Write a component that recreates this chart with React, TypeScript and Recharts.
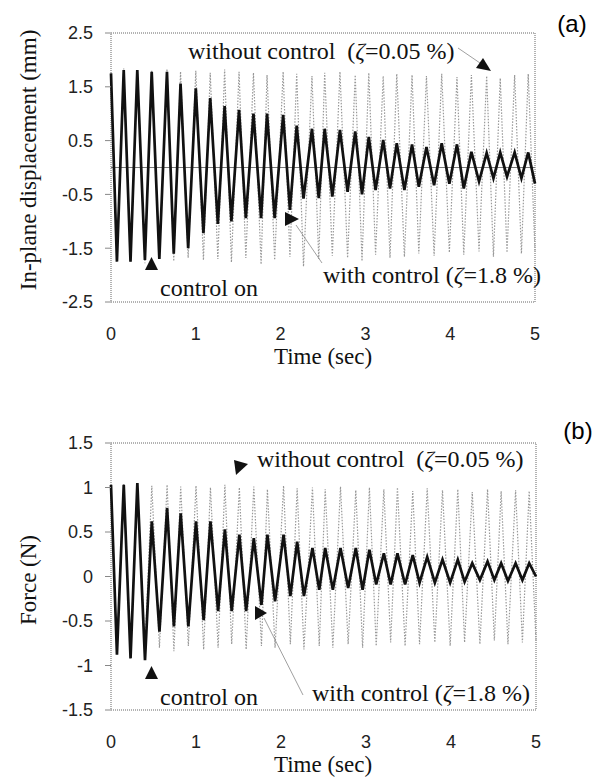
import { LineChart, Line, XAxis, YAxis, ReferenceLine, ReferenceArea } from 'recharts';

// sample instants (sec) at each peak / trough of the record
const time = [
  0, 0.07, 0.15, 0.23, 0.31, 0.40, 0.48, 0.57, 0.66, 0.74,
  0.82, 0.91, 1.00, 1.09, 1.17, 1.26, 1.34, 1.42, 1.51, 1.59,
  1.68, 1.77, 1.84, 1.93, 2.03, 2.11, 2.19, 2.27, 2.37, 2.45,
  2.52, 2.61, 2.70, 2.79, 2.88, 2.96, 3.04, 3.12, 3.21, 3.29,
  3.37, 3.46, 3.55, 3.63, 3.72, 3.81, 3.90, 3.99, 4.08, 4.16,
  4.25, 4.34, 4.43, 4.51, 4.59, 4.67, 4.76, 4.84, 4.92, 5.00,
];

// (a) in-plane displacement, mm
const dispWithout = [
  1.75, -1.72, 1.84, -1.75, 1.82, -1.78, 1.80, -1.70, 1.83, -1.74,
  1.78, -1.68, 1.80, -1.72, 1.76, -1.70, 1.82, -1.76, 1.78, -1.68,
  1.76, -1.80, 1.72, -1.72, 1.78, -1.66, 1.74, -1.84, 1.70, -1.70,
  1.76, -1.64, 1.78, -1.68, 1.72, -1.74, 1.76, -1.62, 1.70, -1.68,
  1.74, -1.66, 1.72, -1.60, 1.70, -1.64, 1.74, -1.58, 1.68, -1.62,
  1.72, -1.56, 1.70, -1.66, 1.66, -1.58, 1.72, -1.60, 1.74, -1.56,
];
const dispWith = [
  1.75, -1.75, 1.81, -1.75, 1.81, -1.72, 1.78, -1.70, 1.78, -1.60,
  1.56, -1.50, 1.47, -1.22, 1.29, -1.05, 1.14, -1.00, 1.07, -0.94,
  1.00, -0.94, 1.00, -0.94, 0.98, -0.79, 0.78, -0.58, 0.72, -0.57,
  0.72, -0.54, 0.70, -0.45, 0.67, -0.50, 0.57, -0.42, 0.51, -0.39,
  0.45, -0.42, 0.43, -0.36, 0.38, -0.33, 0.45, -0.30, 0.43, -0.39,
  0.29, -0.26, 0.27, -0.20, 0.28, -0.17, 0.28, -0.20, 0.28, -0.30,
];

// (b) force, N
const forceWithout = [
  1.03, -0.86, 1.04, -0.84, 1.03, -0.82, 1.02, -0.80, 1.03, -0.84,
  1.01, -0.78, 1.02, -0.82, 1.00, -0.80, 1.03, -0.76, 1.00, -0.82,
  1.01, -0.78, 0.98, -0.80, 1.02, -0.76, 0.99, -0.82, 1.00, -0.78,
  0.98, -0.80, 1.01, -0.76, 0.97, -0.80, 1.00, -0.78, 0.98, -0.74,
  1.00, -0.78, 0.96, -0.76, 0.99, -0.74, 0.97, -0.78, 0.98, -0.74,
  0.95, -0.76, 0.98, -0.72, 0.96, -0.76, 0.97, -0.74, 0.96, -0.72,
];
const forceWith = [
  1.03, -0.88, 1.03, -0.92, 1.05, -0.94, 0.62, -0.62, 0.77, -0.56,
  0.71, -0.56, 0.62, -0.49, 0.62, -0.39, 0.53, -0.39, 0.47, -0.39,
  0.43, -0.32, 0.47, -0.28, 0.47, -0.22, 0.39, -0.22, 0.32, -0.15,
  0.32, -0.15, 0.32, -0.13, 0.32, -0.15, 0.30, -0.09, 0.26, -0.09,
  0.26, -0.09, 0.24, -0.07, 0.22, -0.07, 0.19, -0.07, 0.19, -0.06,
  0.15, -0.04, 0.17, -0.04, 0.15, -0.05, 0.15, -0.04, 0.15, 0.00,
];

const timeTicks = [0, 1, 2, 3, 4, 5];
const dispTicks = [-2.5, -1.5, -0.5, 0.5, 1.5, 2.5];
const forceTicks = [-1.5, -1, -0.5, 0, 0.5, 1, 1.5];

const serif = '"Liberation Serif", "Times New Roman", serif';
const sans = '"Liberation Sans", Arial, sans-serif';
const tickStyle = { fontFamily: sans, fontSize: 18, fill: '#222' };

const topRows = time.map((t, i) => ({ t, off: dispWithout[i], on: dispWith[i] }));
const bottomRows = time.map((t, i) => ({ t, off: forceWithout[i], on: forceWith[i] }));

function Panel({ rows, ticks, lim, margin, height, zeroLine }: any) {
  return (
    <LineChart width={601} height={height} data={rows} margin={margin}>
      <ReferenceArea x1={0} x2={5} y1={-lim} y2={lim} fill="none" stroke="#666" strokeDasharray="1 1" ifOverflow="visible" />
      {zeroLine && <ReferenceLine y={0} stroke="#777" strokeWidth={1} />}
      <XAxis dataKey="t" type="number" domain={[0, 5]} ticks={timeTicks} interval={0}
        axisLine={false} tickLine={false} height={30} tickMargin={19} tick={tickStyle} />
      <YAxis type="number" domain={[-lim, lim]} ticks={ticks} interval={0} width={111}
        axisLine={false} tickSize={6} tickMargin={12} tickLine={{ stroke: '#888' }} tick={tickStyle} />
      <Line dataKey="off" type="linear" stroke="#999" strokeWidth={1.2} strokeDasharray="1.5 1.5"
        dot={false} isAnimationActive={false} />
      <Line dataKey="on" type="linear" stroke="#111" strokeWidth={2.7} dot={false} isAnimationActive={false} />
    </LineChart>
  );
}

function Zeta({ v }: { v: string }) {
  return (
    <>
      (<tspan fontStyle="italic">ζ</tspan>={v} %)
    </>
  );
}

export default function App() {
  const note = { fontFamily: serif, fontSize: 24, fill: '#111', style: { whiteSpace: 'pre' as const } };
  const title = { fontFamily: serif, fontSize: 23, fill: '#111', textAnchor: 'middle' as const };
  return (
    <div style={{ position: 'absolute', left: 0, top: 0, width: 601, height: 779, background: '#fff' }}>
      <div style={{ position: 'absolute', left: 0, top: 0 }}>
        <Panel rows={topRows} ticks={dispTicks} lim={2.5} height={390} zeroLine
          margin={{ top: 33, right: 66, bottom: 58, left: 0 }} />
      </div>
      <div style={{ position: 'absolute', left: 0, top: 390 }}>
        <Panel rows={bottomRows} ticks={forceTicks} lim={1.5} height={389} zeroLine={false}
          margin={{ top: 53, right: 65, bottom: 39, left: 0 }} />
      </div>
      <svg width={601} height={779} style={{ position: 'absolute', left: 0, top: 0, pointerEvents: 'none' }}>
        {/* panel (a) */}
        <text x={572} y={23} fontFamily={sans} fontSize={24} textAnchor="middle" dominantBaseline="central">(a)</text>
        <text {...title} transform="translate(28,160) rotate(-90)" dominantBaseline="central">In-plane displacement (mm)</text>
        <text {...title} x={323} y={364}>Time (sec)</text>
        <text {...note} x={188} y={59}>without control  <Zeta v="0.05" /></text>
        <line x1={458} y1={48} x2={480} y2={63} stroke="#888" strokeWidth={0.8} />
        <polygon points="491,71 476,68 483,58" fill="#111" />
        <text {...note} x={160} y={296}>control on</text>
        <polygon points="145,270 158,270 151.5,257" fill="#111" />
        <text {...note} x={323} y={283}>with control <Zeta v="1.8" /></text>
        <line x1={322} y1={263} x2={296} y2={225} stroke="#888" strokeWidth={0.8} />
        <polygon points="285,212 285,226 299,219" fill="#111" />

        {/* panel (b) */}
        <text x={578} y={430} fontFamily={sans} fontSize={24} textAnchor="middle" dominantBaseline="central">(b)</text>
        <text {...title} transform="translate(28,580) rotate(-90)" dominantBaseline="central">Force (N)</text>
        <text {...title} x={323} y={772}>Time (sec)</text>
        <text {...note} x={257} y={467}>without control  <Zeta v="0.05" /></text>
        <polygon points="234,460 236,475 248,464" fill="#111" />
        <text {...note} x={160} y={705}>control on</text>
        <polygon points="145,679 158,679 151.5,666" fill="#111" />
        <text {...note} x={312} y={701}>with control <Zeta v="1.8" /></text>
        <line x1={303} y1={695} x2={264} y2={618} stroke="#888" strokeWidth={0.8} />
        <polygon points="255,606 255,620 267,613" fill="#111" />
      </svg>
    </div>
  );
}
